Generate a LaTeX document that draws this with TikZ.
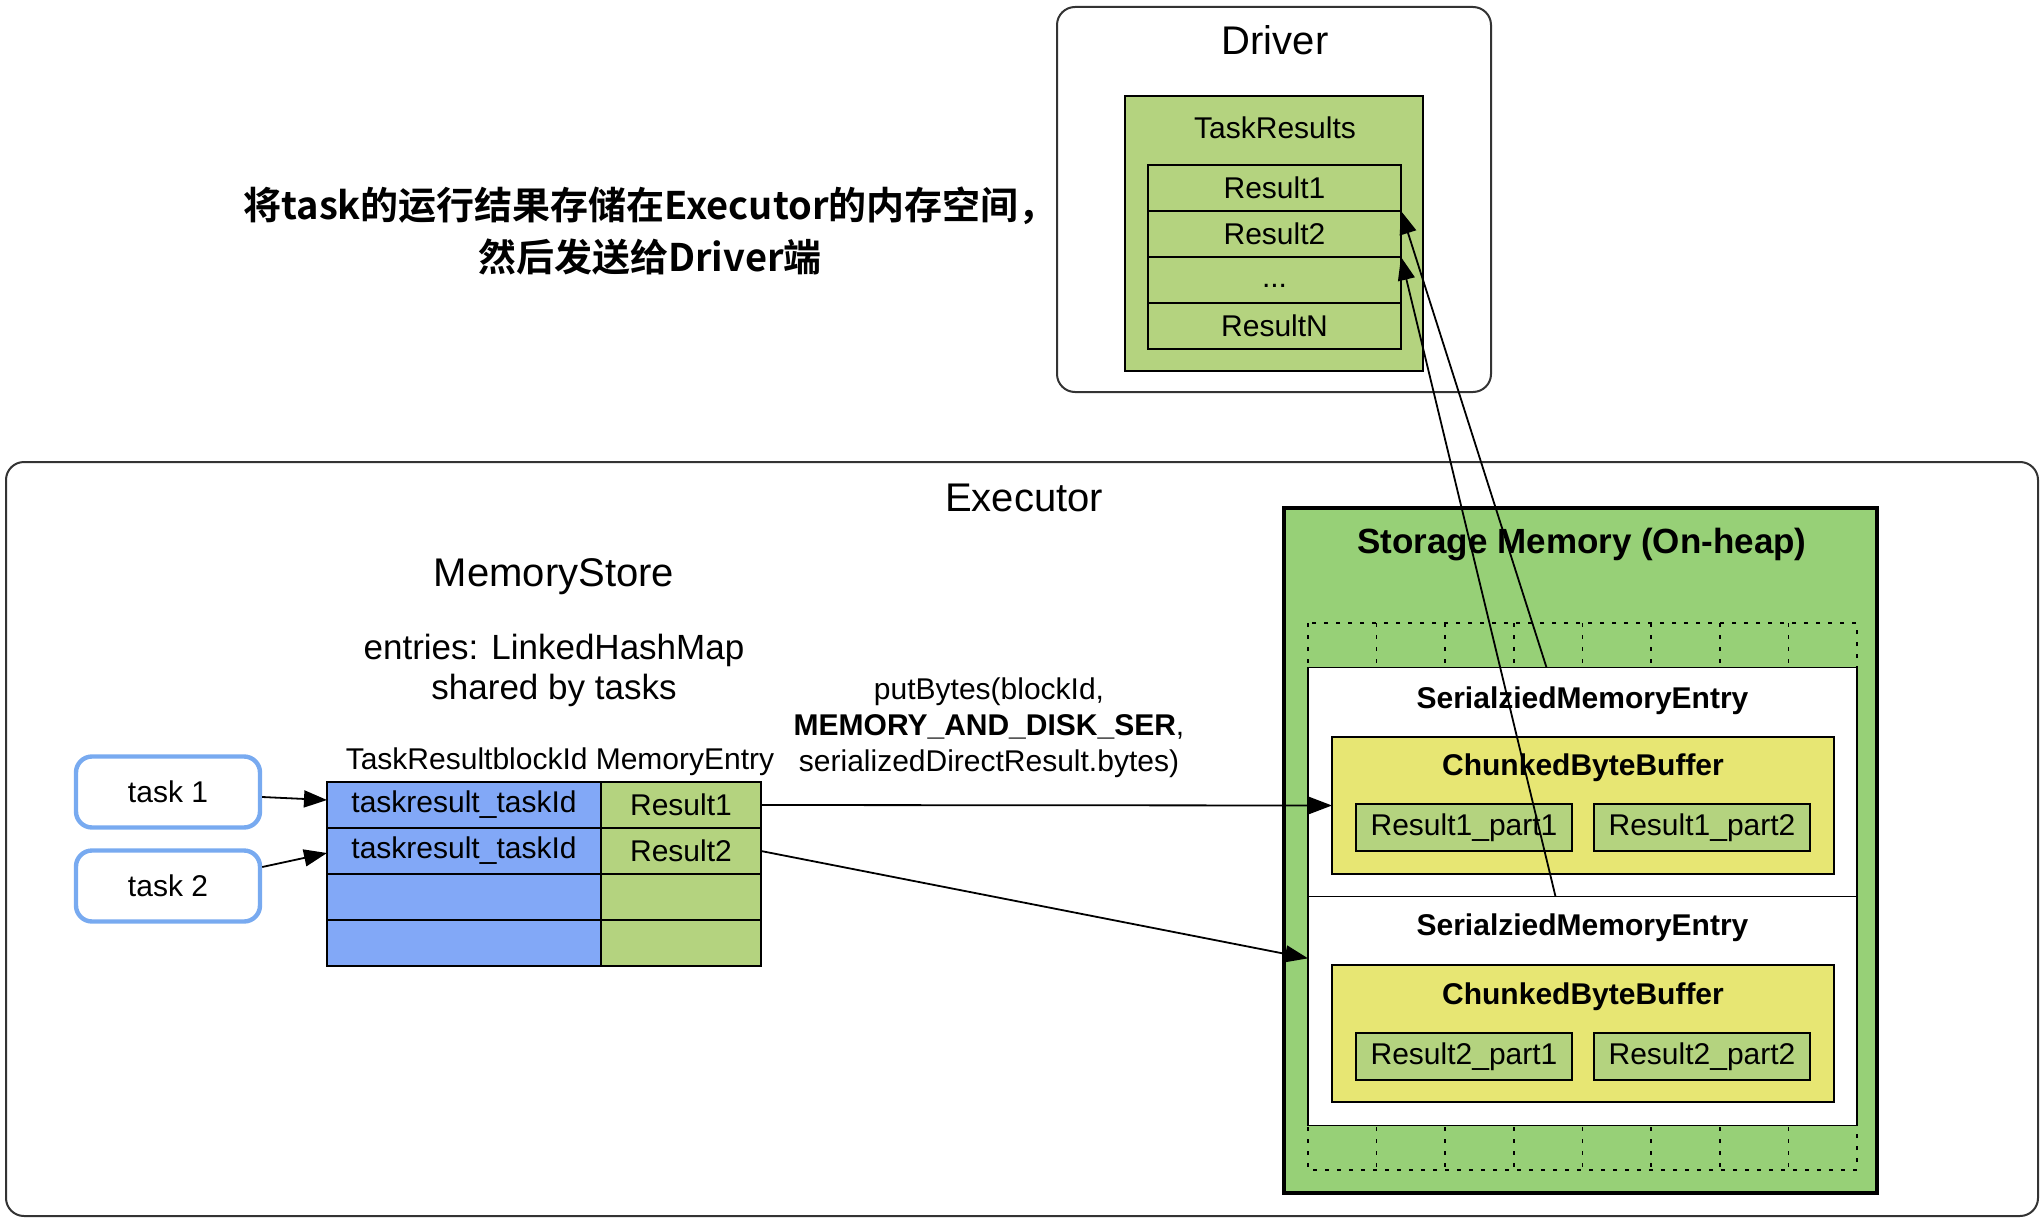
\documentclass[tikz,border=0pt]{standalone}
\usepackage{fontspec}
\setmainfont{Liberation Sans}
\newfontfamily\cjk{Noto Sans CJK SC}[BoldFont={Noto Sans CJK SC Bold}]
\usetikzlibrary{calc,positioning,arrows.meta}
\definecolor{cellblue}{RGB}{130,168,247}
\definecolor{cellgreen}{RGB}{180,211,127}
\definecolor{heapgreen}{RGB}{151,208,119}
\definecolor{bufyellow}{RGB}{231,230,115}
\definecolor{taskblue}{RGB}{120,170,240}

\begin{document}
\begin{tikzpicture}[x=0.5pt, y=-0.5pt,
    panel/.style={rectangle, rounded corners=9pt, draw=black!80, line width=1pt, inner sep=0pt},
    box/.style={rectangle, draw=black, line width=0.8pt, inner sep=0pt, outer sep=0pt},
    txt/.style={font=\fontsize{15}{18}\selectfont},
    big/.style={font=\fontsize{20}{24}\selectfont},
    boldtxt/.style={font=\bfseries\fontsize{15}{18}\selectfont},
    resrow/.style={box, txt, fill=cellgreen, minimum width=126.5pt, minimum height=23pt},
    keycell/.style={box, txt, fill=cellblue, minimum width=137pt, minimum height=23pt},
    valcell/.style={box, txt, fill=cellgreen, minimum width=80pt, minimum height=23pt},
    task/.style={rectangle, txt, rounded corners=8pt, draw=taskblue, line width=2.2pt, fill=white, minimum width=92pt, minimum height=35.5pt},
    sme/.style={box, fill=white, minimum width=274.5pt, minimum height=114.5pt},
    chunk/.style={box, fill=bufyellow, minimum width=251pt, minimum height=68.5pt},
    piece/.style={box, txt, fill=cellgreen, minimum width=108pt, minimum height=23.5pt},
    slots/.style={draw=black, line width=0.8pt, dash pattern=on 2pt off 4pt},
    arr/.style={-{Triangle[length=11.5pt,width=8.5pt]}, line width=0.9pt}]
    \useasboundingbox (0,0) rectangle (2044,1220);

    \node[panel, minimum width=217pt, minimum height=192.5pt] (driver) at (1274,199.5) {};
    \node[big] (drvlbl) at (1275,40) {Driver};
    \node[box, fill=cellgreen, minimum width=149pt, minimum height=137.5pt] (results) at (1274,233.5) {};
    \node[txt] (reslbl) at (1275,128) {TaskResults};
    \node[resrow] (res1) at (1274.5,188) {Result1};
    \node[resrow, below=0pt of res1] (res2) {Result2};
    \node[resrow, below=0pt of res2] (resdots) {};
    \node[txt] (dots) at ([yshift=-3pt]resdots.center) {...};
    \node[resrow, below=0pt of resdots] (resN) {ResultN};

    \node[font=\cjk\bfseries\fontsize{19}{26}\selectfont, align=center] (note) at (650,231) {将task的运行结果存储在Executor的内存空间，\\然后发送给Driver端};

    \node[panel, minimum width=1016pt, minimum height=377pt] (executor) at (1022,839) {};
    \node[big] (exelbl) at (1024,498) {Executor};
    \node[big] (store) at (554,577) {MemoryStore};
    \node[font=\fontsize{17.5}{20}\selectfont, align=center] (entries) at (554,670) {entries: LinkedHashMap\\shared by tasks};
    \node[txt] (cols) at (560,762) {TaskResultblockId MemoryEntry};

    \node[keycell] (k1) at (464,805) {taskresult\_taskId};
    \node[keycell, below=0pt of k1] (k2) {taskresult\_taskId};
    \node[keycell, below=0pt of k2] (k3) {};
    \node[keycell, below=0pt of k3] (k4) {};
    \node[valcell, right=0pt of k1] (v1) {Result1};
    \node[valcell, right=0pt of k2] (v2) {Result2};
    \node[valcell, right=0pt of k3] (v3) {};
    \node[valcell, right=0pt of k4] (v4) {};

    \node[task] (task1) at (168,792) {task 1};
    \node[task] (task2) at (168,886) {task 2};

    \node[txt, align=center] (call) at (989,728) {putBytes(blockId,\\\textbf{MEMORY\_AND\_DISK\_SER},\\serializedDirectResult.bytes)};

    \node[box, line width=2pt, fill=heapgreen, minimum width=296.5pt, minimum height=342.5pt] (heap) at (1580.5,850.5) {};
    \node[font=\bfseries\fontsize{17.5}{21}\selectfont] (heaplbl) at (1582,545) {Storage Memory (On-heap)};
    \draw[slots] (1308,623) rectangle (1857,1170);
    \foreach \c in {1,...,7}
        \draw[slots] ({1308+68.625*\c},623) -- ({1308+68.625*\c},1170);

    \node[sme] (sme1) at (1582.5,782) {};
    \node[sme, below=0pt of sme1] (sme2) {};
    \node[boldtxt] (sme1lbl) at (1582.5,701) {SerialziedMemoryEntry};
    \node[boldtxt] (sme2lbl) at (1582.5,928) {SerialziedMemoryEntry};

    \node[chunk] (buf1) at (1583,805.5) {};
    \node[boldtxt] (buf1lbl) at (1583,768) {ChunkedByteBuffer};
    \node[piece] (p11) at (1464,827.5) {Result1\_part1};
    \node[piece, right=11pt of p11] (p12) {Result1\_part2};

    \node[chunk] (buf2) at (1583,1033.5) {};
    \node[boldtxt] (buf2lbl) at (1583,997) {ChunkedByteBuffer};
    \node[piece] (p21) at (1464,1056.5) {Result2\_part1};
    \node[piece, right=11pt of p21] (p22) {Result2\_part2};

    \draw[arr] ([yshift=-2.5pt]task1.east) -- ([yshift=2.5pt]k1.west);
    \draw[arr] ([yshift=9.5pt]task2.east) -- ([yshift=-1pt]k2.west);
    \draw[arr] (v1.east) -- (buf1.west);
    \draw[arr] (v2.east) -- ($(sme2.north west)!0.27!(sme2.south west)$);
    \draw[arr] ([xshift=-18pt]sme1.north) -- (res1.south east);
    \draw[arr] ([xshift=-13.5pt]sme2.north) -- (res2.south east);

\end{tikzpicture}
\end{document}
